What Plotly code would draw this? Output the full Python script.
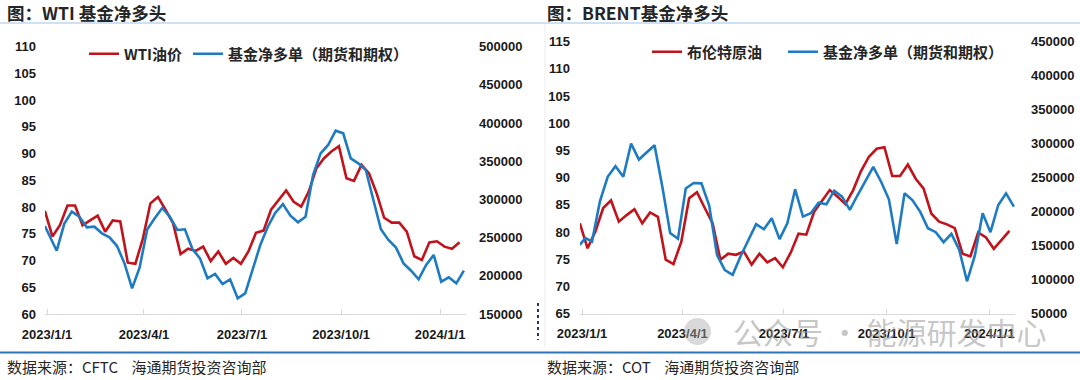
import pandas as pd
import plotly.graph_objects as go

# ---------------- data ----------------
wti_dates = list(pd.date_range("2022-12-30", periods=56, freq="7D"))
wti_price = [79.3, 74.5, 76.6, 80.3, 80.3, 76.6, 77.5, 78.4, 75.4, 77.5,
             77.3, 69.6, 69.4, 74.1, 80.7, 81.9, 79.5, 77.0, 71.2, 72.2,
             71.8, 72.6, 69.9, 71.7, 69.4, 70.5, 69.4, 71.7, 75.2, 75.6,
             79.5, 81.2, 83.1, 81.0, 80.1, 82.9, 87.2, 89.1, 90.4, 91.4,
             85.4, 84.9, 87.9, 86.3, 82.6, 78.0, 77.1, 77.1, 75.4, 70.8,
             70.1, 73.4, 73.6, 72.6, 72.2, 73.4]

wti_net_dates = [pd.Timestamp("2022-12-30")] + list(pd.date_range("2023-01-10", periods=55, freq="7D"))
wti_net_long = [265200, 232900, 268000, 284000, 277400, 263500, 264300, 255600, 250400, 239000,
                216000, 183600, 211000, 260500, 275300, 288800, 277500, 260000, 260900, 235000,
                222900, 196700, 202400, 189300, 195400, 170500, 177100, 207600, 240300, 264300,
                282700, 294000, 278700, 270000, 277400, 332000, 360400, 371300, 390000, 386500,
                353800, 347300, 338500, 299300, 260900, 246900, 236900, 216300, 206700, 195400,
                214200, 227300, 192300, 198000, 190200, 206700]

brent_dates = list(pd.date_range("2022-12-30", periods=56, freq="7D"))
brent_price = [81.6, 77.0, 80.1, 84.4, 85.8, 81.9, 83.1, 84.2, 81.6, 83.6,
               82.8, 74.9, 74.1, 78.2, 86.2, 87.3, 84.4, 81.6, 74.9, 76.0,
               75.8, 76.4, 74.0, 76.0, 74.4, 75.2, 73.5, 76.2, 79.7, 79.5,
               83.7, 85.8, 87.7, 86.5, 85.1, 87.7, 91.2, 93.8, 95.3, 95.6,
               90.3, 90.3, 92.4, 89.8, 88.0, 83.4, 81.9, 81.4, 80.7, 76.0,
               75.5, 79.9, 79.0, 76.9, 78.6, 80.2]

brent_net_dates = [pd.Timestamp("2022-12-30"), pd.Timestamp("2023-01-04")] + \
    list(pd.date_range("2023-01-10", periods=55, freq="7D"))
brent_net_long = [151100, 160900, 156000, 214600, 251200, 266900, 251200, 300100, 276600, 286400,
                  297600, 236600, 168500, 160000, 234100, 242000, 241500, 209000, 136000, 113800,
                  107000, 134000, 158400, 181400, 174100, 190200, 159400, 182800, 232700, 192600,
                  197500, 213100, 210700, 230700, 221900, 202400, 224400, 245400, 265900, 243900,
                  218000, 152100, 226800, 217000, 199900, 175500, 169700, 155000, 167200, 143800,
                  97400, 135000, 197500, 169700, 209700, 226800, 207300]

x_tick_dates = ["2023-01-01", "2023-04-01", "2023-07-01", "2023-10-01", "2024-01-01"]
x_tick_labels = ["2023/1/1", "2023/4/1", "2023/7/1", "2023/10/1", "2024/1/1"]

left_titles = ["图：WTI 基金净多头", "图：BRENT基金净多头"]
sources = ["数据来源：CFTC\u00a0\u00a0\u00a0\u00a0海通期货投资咨询部",
           "数据来源：COT\u00a0\u00a0\u00a0\u00a0海通期货投资咨询部"]
series_names = ["WTI油价", "基金净多单（期货和期权）", "布伦特原油", "基金净多单（期货和期权）"]

# ---------------- style ----------------
W, H = 1080, 380
RED = "#C0131B"
BLUE = "#1F7BC1"
CJK = "Noto Sans CJK SC"
NUM = "Liberation Sans"
TXT = "#262626"


def px(x):
    return x / W


def py(y):
    return 1 - y / H


fig = go.Figure()

fig.add_trace(go.Scatter(x=wti_dates, y=wti_price, name=series_names[0], mode="lines",
                         line=dict(color=RED, width=2.6), xaxis="x", yaxis="y", legend="legend"))
fig.add_trace(go.Scatter(x=wti_net_dates, y=wti_net_long, name=series_names[1], mode="lines",
                         line=dict(color=BLUE, width=2.6), xaxis="x", yaxis="y2", legend="legend2"))
fig.add_trace(go.Scatter(x=brent_dates, y=brent_price, name=series_names[2], mode="lines",
                         line=dict(color=RED, width=2.6), xaxis="x2", yaxis="y3", legend="legend3"))
fig.add_trace(go.Scatter(x=brent_net_dates, y=brent_net_long, name=series_names[3], mode="lines",
                         line=dict(color=BLUE, width=2.6), xaxis="x2", yaxis="y4", legend="legend4"))

tickfont = dict(family=NUM, size=13, color="#1a1a1a", weight="bold")

xcommon = dict(type="date", showgrid=False, zeroline=False, showline=True, linecolor="#D9D9D9",
               linewidth=1, ticks="inside", ticklen=5, tickcolor="#D9D9D9",
               tickvals=x_tick_dates, ticktext=x_tick_labels, tickfont=tickfont,
               ticklabelstandoff=8, automargin=False)
ycommon = dict(showgrid=False, zeroline=False, showline=False, ticks="", tickfont=tickfont,
               automargin=False)

legfont = dict(family=CJK, size=15, color=TXT, weight="bold")


def leg(x, y):
    return dict(orientation="h", x=px(x), y=py(y), xanchor="left", yanchor="middle",
                bgcolor="rgba(0,0,0,0)", font=legfont)


fig.update_layout(
    width=W, height=H,
    margin=dict(l=0, r=0, t=0, b=0, autoexpand=False),
    paper_bgcolor="white", plot_bgcolor="white",
    showlegend=True,
    xaxis=dict(xcommon, domain=[px(45), px(466)], range=["2022-12-30 03:00", "2024-01-25"], anchor="y"),
    yaxis=dict(ycommon, domain=[py(314), py(46.7)], range=[60, 110], dtick=5, anchor="x",
               ticklabelstandoff=8),
    yaxis2=dict(ycommon, domain=[py(314), py(46.7)], range=[150000, 500000], dtick=50000,
                overlaying="y", side="right", anchor="x", tickformat="d", ticklabelstandoff=12),
    xaxis2=dict(xcommon, domain=[px(580), px(1015)], range=["2022-12-30 05:00", "2024-01-24"], anchor="y3"),
    yaxis3=dict(ycommon, domain=[py(313.5), py(41.7)], range=[65, 115], dtick=5, anchor="x2",
                ticklabelstandoff=9),
    yaxis4=dict(ycommon, domain=[py(313.5), py(41.7)], range=[50000, 450000], dtick=50000,
                overlaying="y3", side="right", anchor="x2", tickformat="d", ticklabelstandoff=15),
    legend=leg(84, 54),
    legend2=leg(188, 54),
    legend3=leg(647, 52),
    legend4=leg(783, 52),
)

# titles and sources
for x0, t in zip([5, 545], left_titles):
    fig.add_annotation(x=px(x0), y=py(13), xref="paper", yref="paper", text=t, showarrow=False,
                       xanchor="left", yanchor="middle",
                       font=dict(family=CJK, size=17.5, color=TXT, weight="bold"))
for x0, t in zip([5, 545], sources):
    fig.add_annotation(x=px(x0), y=py(366), xref="paper", yref="paper", text=t, showarrow=False,
                       xanchor="left", yanchor="middle", font=dict(family=CJK, size=15, color=TXT))

# separator lines
fig.add_shape(type="line", xref="paper", yref="paper", x0=0, x1=1, y0=py(23), y1=py(23),
              line=dict(color="#9DC3E6", width=1))
fig.add_shape(type="line", xref="paper", yref="paper", x0=0, x1=1, y0=py(352.5), y1=py(352.5),
              line=dict(color="#2E75B6", width=2))
fig.add_shape(type="line", xref="paper", yref="paper", x0=px(545), x1=px(545), y0=py(24), y1=py(347),
              line=dict(color="#EDEDED", width=1))
fig.add_shape(type="line", xref="paper", yref="paper", x0=px(538), x1=px(538), y0=py(303), y1=py(340),
              line=dict(color="#1F3864", width=2, dash="dot"))

# watermark
fig.add_shape(type="circle", xref="paper", yref="paper", x0=px(684), x1=px(711), y0=py(345), y1=py(318),
              fillcolor="rgba(170,170,170,0.45)", line=dict(width=0))
fig.add_annotation(x=px(731), y=py(331), xref="paper", yref="paper", text="公众号 · 能源研发中心",
                   showarrow=False, xanchor="left", yanchor="middle",
                   font=dict(family=CJK, size=30, color="rgba(150,150,150,0.55)"))

fig.write_html("out.html", config={"displayModeBar": False},
               post_script="document.body.style.margin='0';")
